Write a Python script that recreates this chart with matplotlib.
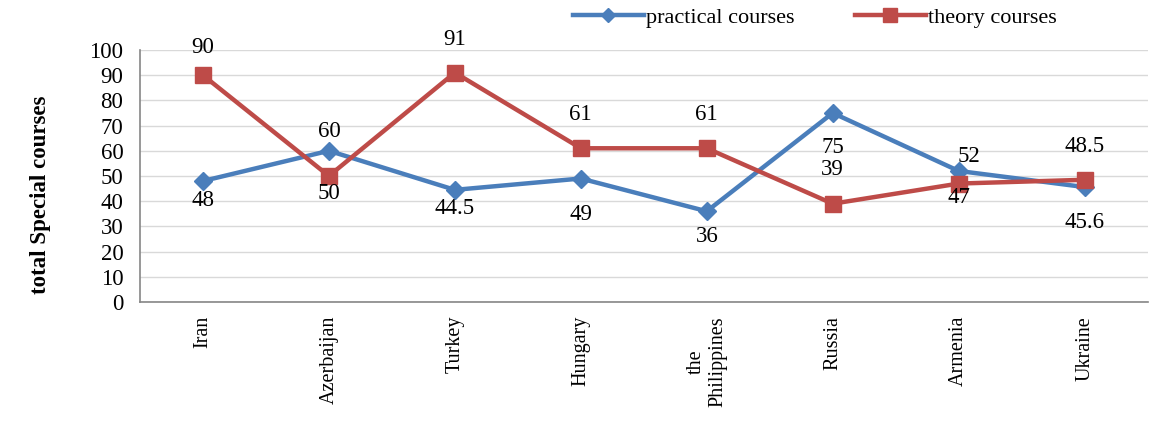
import matplotlib.pyplot as plt
import numpy as np

plt.rcParams['font.family'] = ['Liberation Serif', 'DejaVu Serif']

# data
countries = ['Iran', 'Azerbaijan', 'Turkey', 'Hungary', 'the\nPhilippines',
             'Russia', 'Armenia', 'Ukraine']
practical = [48, 60, 44.5, 49, 36, 75, 52, 45.6]
theory = [90, 50, 91, 61, 61, 39, 47, 48.5]

# label offsets (pixels) for data labels
practical_off = [(0, -19), (0, 19), (0, -19), (0, -36), (0, -25), (0, -35), (10, 14), (0, -35)]
theory_off = [(0, 28), (0, -18), (0, 33), (0, 34), (0, 34), (0, 34), (0, -14), (0, 33)]

BLUE = '#4A7EBB'
RED = '#BE4B48'

fig = plt.figure(figsize=(11.49, 4.25), dpi=100)
ax = fig.add_axes([0.1218, 0.2894, 0.877, 0.593])

x = np.arange(len(countries))
ax.plot(x, practical, color=BLUE, lw=3.2, marker='D', markersize=9,
        label='practical courses', zorder=3)
ax.plot(x, theory, color=RED, lw=3.2, marker='s', markersize=12,
        label='theory courses', zorder=4)

for xi, v, off in zip(x, practical, practical_off):
    ax.annotate(f'{v:g}', (xi, v), xytext=off, textcoords='offset pixels',
                ha='center', va='center', fontsize=16.5, zorder=5)
for xi, v, off in zip(x, theory, theory_off):
    ax.annotate(f'{v:g}', (xi, v), xytext=off, textcoords='offset pixels',
                ha='center', va='center', fontsize=16.5, zorder=5)

ax.set_xlim(-0.5, len(countries) - 0.5)
ax.set_ylim(0, 100)
ax.set_yticks(np.arange(0, 101, 10))
ax.set_xticks(x)
ax.set_xticklabels(countries, rotation=90, fontsize=14.5)
ax.tick_params(axis='y', length=0, pad=12, labelsize=16.5)
ax.tick_params(axis='x', length=0, pad=10)
ax.grid(axis='y', color='#D9D9D9', lw=1)
ax.set_axisbelow(True)

for s in ['top', 'right']:
    ax.spines[s].set_visible(False)
for s in ['left', 'bottom']:
    ax.spines[s].set_color('#868686')
    ax.spines[s].set_linewidth(1.2)

fig.text(0.035, 0.542, 'total Special courses', rotation=90, ha='center',
         va='center', fontsize=16.5, fontweight='bold')

fig.legend(loc='center', bbox_to_anchor=(0.709, 0.958), ncol=2, frameon=False,
           fontsize=16, handlelength=3.2, columnspacing=2.7, handletextpad=0.1,
           markerscale=0.8)

fig.savefig('out.png', dpi=100)
